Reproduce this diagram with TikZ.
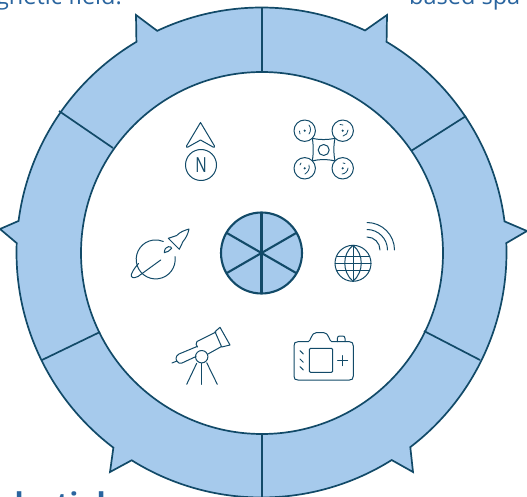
\documentclass[tikz,border=0pt]{standalone}
\usepackage{fontspec}
\usetikzlibrary{calc}
\setmainfont{Open Sans}
\definecolor{ringfill}{HTML}{A6CAEC}
\definecolor{ink}{HTML}{124A68}
\definecolor{captionblue}{HTML}{2A659F}
\tikzset{
  ringline/.style={draw=ink,line width=1.7pt,line join=miter},
  divider/.style={draw=ink,line width=1.7pt},
  hubline/.style={draw=ink,line width=2.1pt},
  icon/.style={draw=ink,line width=1pt,line cap=round,line join=round},
  iconthin/.style={draw=ink,line width=0.8pt,line cap=round,line join=round},
  caption/.style={text=captionblue,font=\fontsize{23.5pt}{26pt}\selectfont,inner sep=0pt},
}
\begin{document}
\begin{tikzpicture}[x=1pt,y=-1pt]
\useasboundingbox (0,0) rectangle (527,497);
\clip (0,0) rectangle (527,497);
\fill[white] (0,0) rectangle (527,497);
% captions (cut by the page edge)
\node[caption,anchor=base east] (capa) at (122,4.5) {magnetic field.};
\node[caption,anchor=base west] (capb) at (409,4.5) {based spa};
\node[caption,anchor=base east,font=\fontsize{30pt}{32pt}\selectfont\bfseries] (capc) at (106,514) {Celestial};
% ring
\coordinate (c) at (261.5,252.5);
\def\R{245}
\filldraw[fill=ringfill,ringline]
  ($(c)+(300.7:\R)$) arc[start angle=300.7,end angle=352.7,radius=\R]
  -- (527,231) -- ($(c)+(357.8:\R)$)
  arc[start angle=357.8,end angle=412.6,radius=\R]
  -- (413,472) -- ($(c)+(57.9:\R)$)
  arc[start angle=57.9,end angle=122,radius=\R]
  -- (110,472) -- ($(c)+(127.2:\R)$)
  arc[start angle=127.2,end angle=182.2,radius=\R]
  -- (0,229) -- ($(c)+(187.4:\R)$)
  arc[start angle=187.4,end angle=239.3,radius=\R]
  -- (136,15) -- ($(c)+(244.8:\R)$)
  arc[start angle=244.8,end angle=295,radius=\R]
  -- (387,15) -- cycle;
\filldraw[fill=white,ringline] (262,253) circle[radius=181];
\draw[divider] (262,8) -- (262,72);
\draw[divider] (262,434) -- (262,497);
\draw[divider] (59,111) -- (113,148);
\draw[divider] (466,116) -- (411,151);
\draw[divider] (42,360) -- (100,332);
\draw[divider] (480,360) -- (424,331);
% hub
\coordinate (h) at (261.5,253);
\filldraw[fill=ringfill,hubline] (h) circle[radius=40.5];
\foreach \a in {30,90,150,210,270,330}
  \draw[hubline] (h) -- ++(\a:40.5);
% compass
\draw[icon] (200.5,122.5) -- (186.5,146) .. controls (186,147.5) and (187,147.5) .. (188,147) -- (200.5,140) -- (213,147) .. controls (214,147.5) and (215,147.5) .. (214.5,146) -- cycle;
\draw[icon] (201,165) circle[radius=15.5];
\node[text=ink,inner sep=0pt,font=\fontsize{16pt}{18pt}\selectfont,xscale=.95,yscale=1.3] (north) at (201,165) {N};
% drone
\foreach \x/\y in {304.7/130.7,342.7/130.7,304.7/168.3,342.7/168.3}{
  \draw[icon] (\x,\y) circle[radius=10.7];
  \fill[ink] (\x,\y) circle[radius=1.2];
}
\draw[iconthin] (300,134) -- (299.5,131);
\draw[iconthin] (309,125) .. controls (311,128) and (311,131) .. (309,134);
\draw[iconthin] (340,124.5) -- (343,125);
\draw[iconthin] (348,130) .. controls (348,133) and (346,135.5) .. (343,136);
\draw[iconthin] (300,165) -- (301,163);
\draw[iconthin] (309,165) .. controls (310,169) and (308,172) .. (305,174);
\draw[iconthin] (343,163) -- (345,163.5);
\draw[iconthin] (348,168) .. controls (348,171) and (345,174) .. (342,174);
\draw[icon] (312.3,138.3) .. controls (320,140) and (327,140) .. (335,138.3)
  .. controls (333.5,145) and (333.5,154) .. (335,161)
  .. controls (327,159) and (320,159) .. (312.3,161)
  .. controls (313.5,154) and (313.5,145) .. (312.3,138.3) -- cycle;
\draw[icon] (323.7,150) circle[radius=5.5];
% globe and waves
\coordinate (g) at (353,263.3);
\draw[icon] (g) circle[radius=18];
\draw[icon] (353,245.3) .. controls (342,254) and (342,272) .. (353,281.3) .. controls (364,272) and (364,254) .. (353,245.3) -- cycle;
\draw[icon] (353,245.3) -- (353,281.3);
\draw[icon] (336.5,256) -- (369.5,256);
\draw[icon] (335,263.3) -- (371,263.3);
\draw[icon] (336.5,270.5) -- (369.5,270.5);
\coordinate (w) at (367,250);
\draw[icon] (367,222.5) arc[start angle=270,end angle=360,radius=27.5];
\draw[icon] (367,229.5) arc[start angle=270,end angle=360,radius=20.5];
\draw[icon] (367,237) arc[start angle=270,end angle=360,radius=13];
% planet and rocket
\draw[icon] (175,256.7) arc[start angle=-8,end angle=293,radius=19.5];
\draw[icon] (160.7,260) -- (138,276.5) .. controls (134,278.5) and (130,278) .. (131.5,274) .. controls (133,270) and (136,266.5) .. (138.5,263.5);
\draw[icon] (168.3,238.3) -- (176.7,235.5) .. controls (180,232) and (184,230.5) .. (189,229) .. controls (188,234) and (186,238) .. (183,241.5) -- (179.3,249.3) -- cycle;
\draw[icon] (164.3,252.7) .. controls (164.5,249) and (166,247) .. (168.3,246.7) .. controls (170,246.5) and (171.5,247) .. (171.7,248.3) .. controls (170,251) and (167,252) .. (164.3,252.7) -- cycle;
% telescope
\draw[icon] (215,331.7) -- (220,327.3) -- (230,345) -- (221.7,347) -- cycle;
\draw[icon] (216,332) -- (197,341.5) .. controls (195.5,343) and (196,345.5) .. (197.5,347);
\draw[icon] (221.5,346.5) -- (208,354);
\draw[icon] (197,346.5) -- (179,354) .. controls (175,356) and (175,361) .. (179,363) .. controls (180,363.5) and (181,363.5) .. (182,363) -- (196,356.5);
\draw[icon] (201.7,356.7) circle[radius=6.2];
\draw[icon] (196.7,363.3) -- (186.7,384.3);
\draw[icon] (201.7,363.3) -- (201.7,384.3);
\draw[icon] (206.7,362.7) -- (217.3,384.3);
\draw[icon] (172,363) -- (177,361);
% camera
\draw[icon] (308.3,341.7) .. controls (311,341) and (311,333) .. (316,332.7) -- (324,332.7) .. controls (329,333) and (329,341) .. (331.7,341.7) -- (349.5,341.7) .. controls (352,341.7) and (353.3,343) .. (353.3,346) -- (353.3,376) .. controls (353.3,379) and (352,380) .. (349.5,380) -- (298,380) .. controls (295,380) and (294,379) .. (294,376) -- (294,346) .. controls (294,343) and (295,341.7) .. (298,341.7) -- cycle;
\draw[icon] (337.3,341.7) -- (337.3,338.5) .. controls (337.3,336.5) and (338.5,336) .. (340,336) -- (342.5,336) .. controls (344,336) and (345,336.5) .. (345,338.5) -- (345,341.7);
\draw[icon,rounded corners=1.2pt] (309.3,348.3) rectangle (332.7,372.3);
\draw[icon] (337.7,360.7) -- (347.7,360.7);
\draw[icon] (342.7,355.7) -- (342.7,365.7);
\draw[icon] (300,350.7) -- (303.3,354);
\draw[icon] (300,359) -- (303.3,362.3);
\draw[icon] (300,366.7) -- (303.3,370);
\end{tikzpicture}
\end{document}
